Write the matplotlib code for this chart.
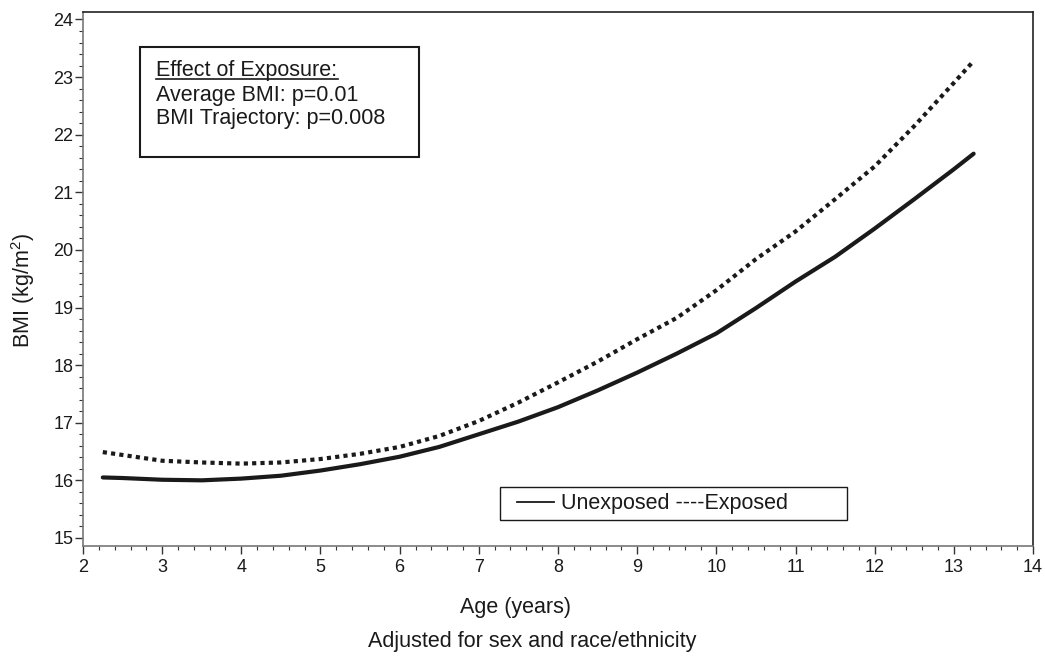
import matplotlib
matplotlib.use("Agg")
import matplotlib.pyplot as plt
from matplotlib.ticker import MultipleLocator
from matplotlib.patches import Rectangle
from matplotlib.lines import Line2D

plt.rcParams['font.family'] = ['Liberation Sans', 'DejaVu Sans']
plt.rcParams['mathtext.fontset'] = 'custom'
plt.rcParams['mathtext.rm'] = 'Liberation Sans'

age = [2.25, 2.5, 3.0, 3.5, 4.0, 4.5, 5.0, 5.5, 6.0, 6.5, 7.0, 7.5, 8.0,
       8.5, 9.0, 9.5, 10.0, 10.5, 11.0, 11.5, 12.0, 12.5, 13.0, 13.25]
unexposed = [16.05, 16.04, 16.01, 16.00, 16.03, 16.08, 16.17, 16.28, 16.41,
             16.58, 16.80, 17.02, 17.27, 17.56, 17.87, 18.20, 18.55, 18.99,
             19.45, 19.88, 20.37, 20.88, 21.40, 21.67]
exposed = [16.49, 16.44, 16.34, 16.31, 16.29, 16.31, 16.37, 16.46, 16.58,
           16.77, 17.03, 17.35, 17.70, 18.06, 18.45, 18.82, 19.30, 19.84,
           20.32, 20.88, 21.45, 22.15, 22.90, 23.28]

W, H = 1045, 657
fig = plt.figure(figsize=(W / 100, H / 100), dpi=100)
ax = fig.add_axes([83 / W, 1 - 546 / H, 950 / W, 534 / H])

ax.plot(age, unexposed, color='#1a1a1a', lw=3.0, solid_capstyle='round')
ax.plot(age, exposed, color='#1a1a1a', lw=3.0, linestyle=(0, (1, 1)),
        dash_capstyle='butt')

ax.set_xlim(2, 14)
ax.set_ylim(14.86, 24.13)
ax.xaxis.set_major_locator(MultipleLocator(1))
ax.xaxis.set_minor_locator(MultipleLocator(0.2))
ax.yaxis.set_major_locator(MultipleLocator(1))
ax.yaxis.set_minor_locator(MultipleLocator(0.2))
ax.tick_params(which='major', direction='out', length=6, width=1,
               labelsize=13, color='#333333', labelcolor='#1a1a1a')
ax.tick_params(axis='x', which='major', pad=3.5)
ax.tick_params(axis='y', which='major', pad=1)
ax.tick_params(which='minor', direction='out', length=3, width=0.8,
               color='#333333')
ax.set_ylim(14.86, 24.13)
for s in ax.spines.values():
    s.set_linewidth(1.2)
    s.set_color('#222222')
ax.spines['bottom'].set_color('#777777')
ax.spines['left'].set_color('#777777')

fs = 15.5
fig.text(516 / W, 1 - 607 / H, 'Age (years)', ha='center', va='center',
         fontsize=fs, color='#1a1a1a')
fig.text(532 / W, 1 - 642 / H, 'Adjusted for sex and race/ethnicity',
         ha='center', va='center', fontsize=fs, color='#1a1a1a')
fig.text(23 / W, 1 - 291 / H, 'BMI (kg/m$^2$)', rotation=90, ha='center',
         va='center', fontsize=fs, color='#1a1a1a')

# annotation box (axes fraction coords)
def fx(px):
    return (px - 83) / 950

def fy(py):
    return (546 - py) / 534

ax.add_patch(Rectangle((fx(140), fy(157)), fx(419) - fx(140),
                       fy(47) - fy(157), transform=ax.transAxes,
                       fill=False, lw=1.5, edgecolor='#1a1a1a'))
ax.text(fx(156), fy(76), 'Effect of Exposure:', transform=ax.transAxes,
        fontsize=fs, va='baseline', ha='left', color='#1a1a1a')
ax.add_line(Line2D([fx(156), fx(338)], [fy(79), fy(79)],
                   transform=ax.transAxes, color='#1a1a1a', lw=1.2))
ax.text(fx(156), fy(101), 'Average BMI: p=0.01', transform=ax.transAxes,
        fontsize=fs, va='baseline', ha='left', color='#1a1a1a')
ax.text(fx(156), fy(124), 'BMI Trajectory: p=0.008', transform=ax.transAxes,
        fontsize=fs, va='baseline', ha='left', color='#1a1a1a')

# legend box
ax.add_patch(Rectangle((fx(500), fy(520)), fx(847) - fx(500),
                       fy(487) - fy(520), transform=ax.transAxes,
                       fill=False, lw=1.0, edgecolor='#1a1a1a'))
ax.add_line(Line2D([fx(517), fx(554)], [fy(502), fy(502)],
                   transform=ax.transAxes, color='#1a1a1a', lw=1.3))
ax.text(fx(561), fy(509.5), 'Unexposed ----Exposed', transform=ax.transAxes,
        fontsize=fs, va='baseline', ha='left', color='#1a1a1a')

fig.savefig('out.png', dpi=100)
